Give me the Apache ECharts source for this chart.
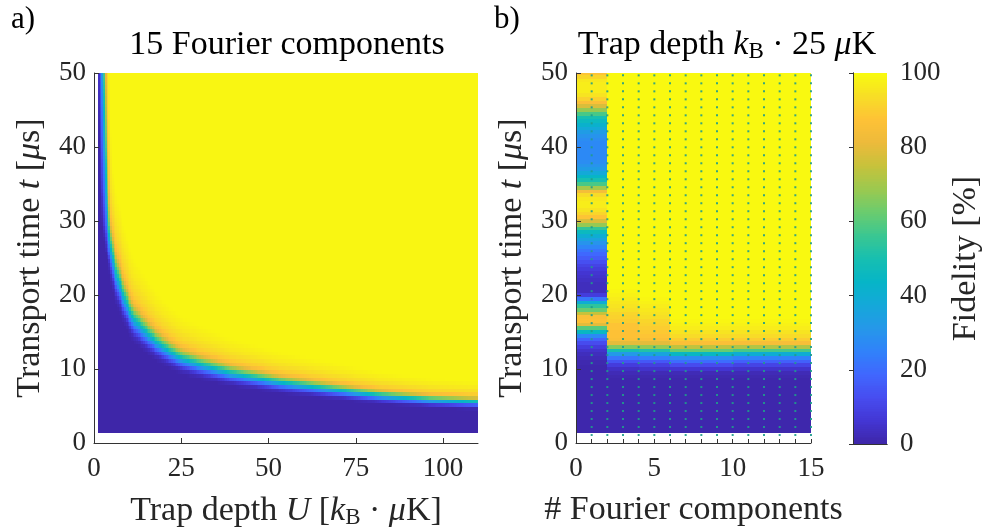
<!DOCTYPE html>
<html><head><meta charset="utf-8">
<script src="https://cdn.jsdelivr.net/npm/echarts@6/dist/echarts.min.js"></script>
<style>html,body{margin:0;padding:0;background:#fff}#c{width:984px;height:528px}</style>
</head><body><div id="c"></div>
<script>
// ===== DATA =====
// Panel a: 50 % fidelity boundary t50(U)
const boundaryU = [1.0, 1.6, 2.2, 2.7, 3.2, 3.6, 4.1, 5.0, 6.3, 8.6, 11.0, 14.9, 18.0, 21.5, 25.0, 30.0, 39.0, 53.3, 67.6, 81.9, 96.3, 110, 130];
const boundaryT = [200, 120, 70, 50, 40, 34, 29.5, 26, 23.3, 19.9, 17.2, 15.2, 13.8, 12.6, 11.6, 10.8, 9.6, 8.3, 7.4, 6.5, 5.9, 5.6, 5.15];
// fidelity across the transition, versus t / t50
const profileRatio  = [0.80, 0.85, 0.88, 0.92, 0.96, 1.00, 1.04, 1.08, 1.12, 1.17, 1.23, 1.32, 1.45, 1.6];
const profileRatioF = [0, 3, 9, 20, 35, 50, 63, 76, 85, 90, 93, 96, 98.5, 100];
// fidelity across the transition, versus U - U50 (steep part)
const profileDU  = [-1.8, -1.4, -1.0, -0.6, -0.3, 0, 0.3, 0.6, 0.9, 1.3, 1.8];
const profileDUF = [0, 4, 12, 22, 35, 50, 65, 80, 89, 95, 99];

// Panel b: column blocks of Fourier components, each a list of [t (us), fidelity %]
const componentEdges = [0, 2, 4, 6, 10, 15];
const fidelity0to2 = [[2,0.5],[3,0.5],[4,0.5],[5,0.5],[6,0.5],[7,0.5],[8,0.5],[9,0.5],[10,0.5],[11,1],[11.5,2],
  [12,3],[12.5,5],[13,8],[13.5,12],[14,18],[14.5,27],[15,45],[15.5,60],[16,80],[16.5,87],[17,86],[17.5,75],
  [18,62],[18.5,54],[19,40],[19.5,22],[20,8],[20.5,3],[21,3],[21.5,3],[22,4],[22.5,5],[23,6],[23.5,8],
  [24,10],[24.5,13],[25,16],[25.5,19],[26,22],[26.5,26],[27,30],[27.5,35],[28,40],[28.5,46],[29,55],[29.5,68],
  [30,78],[30.5,88],[31,92],[31.5,95],[32,97],[32.5,97],[33,96],[33.5,93],[34,84],[34.5,70],[35,58],[35.5,50],
  [36,44],[36.5,38],[37,33],[37.5,30],[38,28],[38.5,27],[39,27],[39.5,27],[40,27],[40.5,27],[41,28],[41.5,30],
  [42,33],[42.5,38],[43,42],[43.5,46],[44,50],[44.5,58],[45,68],[45.5,78],[46,86],[46.5,91],[47,95],[47.5,97],
  [48,97],[48.5,97],[49,96],[49.5,92],[50,88]];
const fidelity2to4 = [[2,0.5],[3,0.5],[4,0.5],[5,0.5],[6,0.5],[7,0.5],[8,0.5],[8.5,0.5],[9,1],[9.5,2],
  [10,4],[10.5,8],[11,14],[11.5,22],[12,32],[12.5,50],[13,66],[13.5,80],[14,86],[14.5,87],[15,87],[15.5,88],
  [16,88],[16.5,90],[17,91],[17.5,92],[18,94],[18.5,95],[19,96],[19.5,97],[20,98],[20.5,99],[21,99.5],
  [22,99.5],[24,99.5],[26,99.5],[28,99.5],[30,99.5],[32,99.5],[34,99.5],[36,99.5],[38,99.5],[40,99.5],
  [42,99.5],[44,99.5],[46,99.5],[48,99.5],[50,99.5]];
const fidelity4to6 = [[2,0.5],[3,0.5],[4,0.5],[5,0.5],[6,0.5],[7,0.5],[8,0.5],[8.5,0.5],[9,1],[9.5,2],
  [10,5],[10.5,9],[11,15],[11.5,24],[12,36],[12.5,52],[13,68],[13.5,80],[14,86],[14.5,88],[15,89],[15.5,90],
  [16,91],[16.5,92],[17,94],[17.5,95],[18,96],[18.5,97],[19,98],[19.5,99],[20,99.5],[21,99.5],
  [22,99.5],[24,99.5],[26,99.5],[28,99.5],[30,99.5],[32,99.5],[34,99.5],[36,99.5],[38,99.5],[40,99.5],
  [42,99.5],[44,99.5],[46,99.5],[48,99.5],[50,99.5]];
const fidelity6to10 = [[2,0.5],[3,0.5],[4,0.5],[5,0.5],[6,0.5],[7,0.5],[8,0.5],[8.5,0.5],[9,1],[9.5,2],
  [10,6],[10.5,12],[11,20],[11.5,28],[12,45],[12.5,62],[13,74],[13.5,86],[14,90],[14.5,93],[15,95],[15.5,97],
  [16,98],[16.5,99],[17,99.5],[18,99.5],[19,99.5],[20,99.5],[21,99.5],
  [22,99.5],[24,99.5],[26,99.5],[28,99.5],[30,99.5],[32,99.5],[34,99.5],[36,99.5],[38,99.5],[40,99.5],
  [42,99.5],[44,99.5],[46,99.5],[48,99.5],[50,99.5]];
const fidelity10to15 = [[2,0.5],[3,0.5],[4,0.5],[5,0.5],[6,0.5],[7,0.5],[8,0.5],[8.5,0.5],[9,1],[9.5,2],
  [10,5],[10.5,10],[11,17],[11.5,25],[12,40],[12.5,58],[13,72],[13.5,85],[14,90],[14.5,93],[15,95],[15.5,97],
  [16,98],[16.5,99],[17,99.5],[18,99.5],[19,99.5],[20,99.5],[21,99.5],
  [22,99.5],[24,99.5],[26,99.5],[28,99.5],[30,99.5],[32,99.5],[34,99.5],[36,99.5],[38,99.5],[40,99.5],
  [42,99.5],[44,99.5],[46,99.5],[48,99.5],[50,99.5]];
const blockFidelity = [fidelity0to2, fidelity2to4, fidelity4to6, fidelity6to10, fidelity10to15];
// sample points shown as dots in panel b
const sampleN = [1,2,3,4,5,6,7,8,9,10,11,12,13,14,15];
const sampleT = [1.08,2.16,3.24,4.32,5.4,6.48,7.56,8.64,9.72,10.8,11.88,12.96,14.04,15.12,16.2,17.28,18.36,19.44,20.52,21.6,22.68,23.76,24.84,25.92,27,28.08,29.16,30.24,31.32,32.4,33.48,34.56,35.64,36.72,37.8,38.88,39.96,41.04,42.12,43.2,44.28,45.36,46.44,47.52,48.6,49.68];

const xTicksA = [0, 25, 50, 75, 100];
const tMin = 1.35, tMax = 50, uMin = 1.1, uMax = 110;

// ===== helpers =====
function interp(xs, ys, x) {
  const n = xs.length;
  if (x <= xs[0]) return ys[0];
  if (x >= xs[n - 1]) return ys[n - 1];
  for (let i = 1; i < n; i++) {
    if (x <= xs[i]) { const f = (x - xs[i-1]) / (xs[i] - xs[i-1]); return ys[i-1] + f * (ys[i] - ys[i-1]); }
  }
  return ys[n - 1];
}
const bTrev = boundaryT.slice().reverse(), bUrev = boundaryU.slice().reverse();

// panel a grid
const uEdges = []; for (let k = 0; uMin + 0.5 * k < uMax; k++) uEdges.push(+(uMin + 0.5 * k).toFixed(2)); uEdges.push(uMax);
const tEdgesA = []; for (let k = 0; tMin + 0.5 * k < tMax; k++) tEdgesA.push(+(tMin + 0.5 * k).toFixed(2)); tEdgesA.push(tMax);
const cellsA = [];
for (let i = 0; i < uEdges.length - 1; i++) {
  const u = (uEdges[i] + uEdges[i+1]) / 2;
  const t50 = interp(boundaryU, boundaryT, u);
  for (let j = 0; j < tEdgesA.length - 1; j++) {
    const t = (tEdgesA[j] + tEdgesA[j+1]) / 2;
    const ft = interp(profileRatio, profileRatioF, t / t50);
    const fu = interp(profileDU, profileDUF, u - interp(bTrev, bUrev, t));
    const f = Math.abs(ft - 50) <= Math.abs(fu - 50) ? ft : fu;
    cellsA.push([uEdges[i], uEdges[i+1], tEdgesA[j], tEdgesA[j+1], f]);
  }
}
// panel b cells
const cellsB = [];
blockFidelity.forEach((rows, b) => {
  for (let j = 0; j < rows.length; j++) {
    const lo = j === 0 ? tMin : (rows[j-1][0] + rows[j][0]) / 2;
    const hi = j === rows.length - 1 ? tMax : (rows[j][0] + rows[j+1][0]) / 2;
    cellsB.push([componentEdges[b], componentEdges[b+1], lo, hi, rows[j][1]]);
  }
});
const dots = [];
sampleN.forEach(n => sampleT.forEach(t => dots.push([n, t])));
// colour bar cells
const cbar = [];
for (let k = 0; k < 200; k++) cbar.push([0, 1, k / 2, (k + 1) / 2, k / 2 + 0.25]);

const parula = ['#3e26a8','#4336d4','#474df0','#4067fe','#3082fa','#2598e9','#14a8d9','#06b5c7','#17bfb0','#3bc791','#6bcc6e','#9cc94f','#c7c23b','#edba3b','#fec236','#f7de26','#f9fb0e'];

function renderCell(params, api) {
  const a = api.coord([api.value(0), api.value(3)]);
  const b = api.coord([api.value(1), api.value(2)]);
  const x0 = Math.round(a[0]), y0 = Math.round(a[1]);
  const x1 = Math.round(b[0]), y1 = Math.round(b[1]);
  const c = api.visual('color');
  return { type: 'rect', shape: { x: x0, y: y0, width: x1 - x0, height: y1 - y0 }, style: { fill: c } };
}

const F = 'Liberation Serif';
const TXT = '#262626';
const LS = 34; // label font size
const rich = {
  it: { fontStyle: 'italic', fontFamily: F, fontSize: LS, color: TXT },
  sub: { fontFamily: F, fontSize: 23, color: TXT, padding: [13, 0, 0, 0] }
};
const axLine = { show: true, lineStyle: { color: '#333', width: 1 } };
const tick = { show: true, inside: true, length: 5, lineStyle: { color: '#333', width: 1 } };
const tickLabel = { fontFamily: F, fontSize: 27, color: TXT };

const chart = echarts.init(document.getElementById('c'), null, { renderer: 'canvas' });
chart.setOption({
  animation: false,
  backgroundColor: '#fff',
  grid: [
    { left: 94, top: 73, width: 384, height: 370, outerBoundsMode: 'none', containLabel: false },
    { left: 576, top: 73, width: 235, height: 370, outerBoundsMode: 'none', containLabel: false },
    { left: 853, top: 73, width: 34, height: 371, outerBoundsMode: 'none', containLabel: false }
  ],
  xAxis: [
    { gridIndex: 0, type: 'value', min: 0, max: 110, z: 10,
      axisLine: axLine, axisTick: Object.assign({}, tick, { customValues: xTicksA }),
      axisLabel: Object.assign({}, tickLabel, { margin: 12, customValues: xTicksA }), splitLine: { show: false },
      name: 'Trap depth {it|U} [{it|k}{sub|B} · {it|μ}K]', nameLocation: 'middle', nameGap: 50,
      nameTextStyle: { fontFamily: F, fontSize: LS, color: TXT, rich: rich } },
    { gridIndex: 1, type: 'value', min: 0, max: 15, interval: 1, z: 10,
      axisLine: axLine, axisTick: Object.assign({}, tick, { length: 4 }),
      axisLabel: Object.assign({}, tickLabel, { margin: 12, formatter: v => (v % 5 === 0 ? String(v) : '') }),
      splitLine: { show: false },
      name: '# Fourier components', nameLocation: 'middle', nameGap: 50,
      nameTextStyle: { fontFamily: F, fontSize: LS, color: TXT } },
    { gridIndex: 2, type: 'value', min: 0, max: 1, z: 10, axisLine: axLine,
      axisTick: { show: false }, axisLabel: { show: false }, splitLine: { show: false } },
    { gridIndex: 2, type: 'value', min: 0, max: 1, position: 'top', z: 10, axisLine: axLine,
      axisTick: { show: false }, axisLabel: { show: false }, splitLine: { show: false } }
  ],
  yAxis: [
    { gridIndex: 0, type: 'value', min: 0, max: 50, interval: 10, z: 10,
      axisLine: axLine, axisTick: tick, axisLabel: Object.assign({}, tickLabel, { margin: 8 }),
      splitLine: { show: false },
      name: 'Transport time {it|t} [{it|μ}s]', nameLocation: 'middle', nameRotate: 90, nameGap: 47,
      nameTextStyle: { fontFamily: F, fontSize: LS, color: TXT, rich: rich } },
    { gridIndex: 1, type: 'value', min: 0, max: 50, interval: 10, z: 10,
      axisLine: axLine, axisTick: tick, axisLabel: Object.assign({}, tickLabel, { margin: 8 }),
      splitLine: { show: false },
      name: 'Transport time {it|t} [{it|μ}s]', nameLocation: 'middle', nameRotate: 90, nameGap: 47,
      nameTextStyle: { fontFamily: F, fontSize: LS, color: TXT, rich: rich } },
    { gridIndex: 2, type: 'value', min: 0, max: 100, interval: 20, position: 'right', z: 10,
      axisLine: axLine, axisTick: Object.assign({}, tick, { length: 4 }),
      axisLabel: Object.assign({}, tickLabel, { margin: 13 }), splitLine: { show: false },
      name: 'Fidelity [%]', nameLocation: 'middle', nameRotate: 90, nameGap: 62,
      nameTextStyle: { fontFamily: F, fontSize: LS, color: TXT } },
    { gridIndex: 2, type: 'value', min: 0, max: 100, position: 'left', z: 10,
      axisLine: axLine, axisTick: { show: false }, axisLabel: { show: false }, splitLine: { show: false } }
  ],
  visualMap: {
    show: false, type: 'continuous', min: 0, max: 100, dimension: 4, seriesIndex: [0, 1, 2],
    inRange: { color: parula }
  },
  series: [
    { type: 'custom', xAxisIndex: 0, yAxisIndex: 0, renderItem: renderCell, data: cellsA,
      encode: { x: [0, 1], y: [2, 3] }, clip: true, silent: true, progressive: 0, z: 1 },
    { type: 'custom', xAxisIndex: 1, yAxisIndex: 1, renderItem: renderCell, data: cellsB,
      encode: { x: [0, 1], y: [2, 3] }, clip: true, silent: true, progressive: 0, z: 1 },
    { type: 'custom', xAxisIndex: 2, yAxisIndex: 2, renderItem: renderCell, data: cbar,
      encode: { x: [0, 1], y: [2, 3] }, clip: true, silent: true, progressive: 0, z: 1 },
    { type: 'scatter', xAxisIndex: 1, yAxisIndex: 1, data: dots, symbol: 'rect', symbolSize: 2,
      itemStyle: { color: '#1f9c8c', opacity: 0.9 }, silent: true, z: 3, clip: false }
  ],
  graphic: [
    { type: 'text', x: 11, y: 4, style: { text: 'a)', fontFamily: F, fontSize: 31, fill: '#000' } },
    { type: 'text', x: 494, y: 4, style: { text: 'b)', fontFamily: F, fontSize: 31, fill: '#000' } },
    { type: 'text', x: 287, y: 45, style: { text: '15 Fourier components', fontFamily: F, fontSize: LS,
      fill: '#000', align: 'center', verticalAlign: 'middle' } },
    { type: 'text', x: 727, y: 45, style: { text: 'Trap depth {it|k}{sub|B} · 25 {it|μ}K', fontFamily: F, fontSize: LS,
      fill: '#000', align: 'center', verticalAlign: 'middle',
      rich: { it: { fontStyle: 'italic', fontFamily: F, fontSize: LS, fill: '#000' },
              sub: { fontFamily: F, fontSize: 23, fill: '#000', padding: [13, 0, 0, 0] } } } }
  ]
});
</script>
</body></html>
